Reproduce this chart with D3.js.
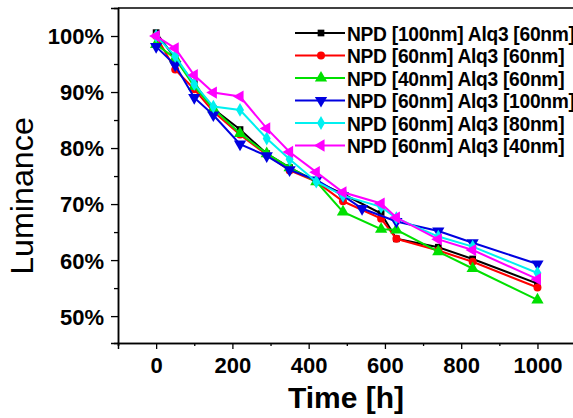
<!DOCTYPE html>
<html>
<head>
<meta charset="utf-8">
<script src="https://cdn.jsdelivr.net/npm/d3@7"></script>
<style>
body{margin:0;background:#fff;}
svg{display:block;font-family:"Liberation Sans",Arial,sans-serif;}
</style>
</head>
<body>
<div class="canvas"></div>
<script>
// data
var hours = [0,50,100,150,220,290,350,420,490,590,630,740,830,1000];
var hoursBlue = [0,50,100,150,220,290,350,420,490,540,630,740,830,1000];

var seriesNames = ['NPD [100nm] Alq3 [60nm]','NPD [60nm] Alq3 [60nm]','NPD [40nm] Alq3 [60nm]',
	'NPD [60nm] Alq3 [100nm]','NPD [60nm] Alq3 [80nm]','NPD [60nm] Alq3 [40nm]'];

var black   = [100.6,96,91.5,87,83.3,79,76.5,74,71.8,68.3,63.8,62.3,60.2,55.8];
var red     = [100,94,90.5,86.5,82.4,78.8,76,74,70.5,67.4,63.8,61.7,59.7,55.1];
var green   = [98.5,96,91,87,82.6,79,76.5,74,68.6,65.5,65.4,61.5,58.5,52.9];
var blue    = [98.1,94.8,89,85.9,80.7,78.6,76.1,74.3,71.5,69.2,66.9,65.2,63.1,59.3];
var cyan    = [100,96.4,91.4,87.4,86.8,81.7,78,74,71.5,69.5,67.5,64.2,62.4,57.7];
var magenta = [100,97.8,93,89.9,89.2,83.5,79.3,75.7,72.1,70.1,67.6,63.7,61.8,56.6];

var yTicks = [50,60,70,80,90,100];
var xTicks = [0,200,400,600,800,1000];

var series = [
	{name:seriesNames[0], t:hours,     v:black,   color:'#000000', sym:d3.symbolSquare,   rot:0,   size:45},
	{name:seriesNames[1], t:hours,     v:red,     color:'#ff0000', sym:d3.symbolCircle,   rot:0,   size:50},
	{name:seriesNames[2], t:hours,     v:green,   color:'#00e000', sym:d3.symbolTriangle, rot:0,   size:65},
	{name:seriesNames[3], t:hoursBlue, v:blue,    color:'#0000e0', sym:d3.symbolTriangle, rot:180, size:65},
	{name:seriesNames[4], t:hours,     v:cyan,    color:'#00f0f0', sym:d3.symbolDiamond,  rot:0,   size:55},
	{name:seriesNames[5], t:hours,     v:magenta, color:'#ff00ff', sym:d3.symbolTriangle, rot:-90, size:65}
];

var W = 573, H = 418;
var x = d3.scaleLinear().domain([-100,1100]).range([118,575.6]);
var y = d3.scaleLinear().domain([45.2,105]).range([343,8]);

var svg = d3.select('.canvas')
	.append('svg')
	.attr('width',W)
	.attr('height',H);

var plot = svg.append('g').attr('class','plot');

// lines + markers
var line = d3.line()
	.x(function(d){return x(d[0])})
	.y(function(d){return y(d[1])});

series.forEach(function(s){
	var pts = s.t.map(function(t,i){return [t,s.v[i]]});
	plot.append('path')
		.attr('d',line(pts))
		.attr('fill','none')
		.attr('stroke',s.color)
		.attr('stroke-width',2);
	plot.selectAll(null)
		.data(pts)
		.enter()
		.append('path')
		.attr('d',d3.symbol().type(s.sym).size(s.size))
		.attr('transform',function(d){return 'translate('+x(d[0])+','+y(d[1])+') rotate('+s.rot+')'})
		.attr('fill',s.color);
});

// axes
var xAxis = d3.axisBottom(x).tickValues(xTicks).tickSize(6).tickFormat(d3.format('d'));
var xMinor = d3.axisBottom(x).tickValues(d3.range(-100,1101,100).filter(function(d){return xTicks.indexOf(d)<0})).tickSize(3).tickFormat('');
var yAxis = d3.axisLeft(y).tickValues(yTicks).tickSize(7).tickFormat(function(d){return d+'%'});
var yMinor = d3.axisLeft(y).tickValues([55,65,75,85,95]).tickSize(4).tickFormat('');

var gx = svg.append('g').attr('transform','translate(0,343)').call(xAxis);
svg.append('g').attr('transform','translate(0,343)').call(xMinor);
var gy = svg.append('g').attr('transform','translate(118,0)').call(yAxis);
svg.append('g').attr('transform','translate(118,0)').call(yMinor);

svg.selectAll('.domain').attr('stroke','#000').attr('stroke-width',1.5);
svg.selectAll('.tick line').attr('stroke','#000').attr('stroke-width',1.3);

gx.selectAll('text')
	.attr('dy',null).attr('y',30)
	.style('font-size','22px').style('font-weight','bold').attr('fill','#000');
gy.selectAll('text')
	.attr('x',-14).attr('dy','0.36em')
	.style('font-size','22px').style('font-weight','bold').attr('fill','#000');

// top frame
svg.append('line')
	.attr('x1',118).attr('x2',W).attr('y1',8).attr('y2',8)
	.attr('stroke','#000').attr('stroke-width',1.5);

// titles
svg.append('text')
	.attr('x',346).attr('y',408)
	.attr('text-anchor','middle')
	.style('font-size','30px').style('font-weight','bold')
	.text('Time [h]');

svg.append('text')
	.attr('transform','translate(33,196) rotate(-90) scale(1.04,1)')
	.attr('text-anchor','middle')
	.style('font-size','31px')
	.text('Luminance');

// legend
var leg = svg.selectAll('.leg')
	.data(series)
	.enter()
	.append('g').attr('class','leg')
	.attr('transform',function(d,i){return 'translate(295,'+(33+i*22.5)+')'});

leg.append('line')
	.attr('x1',0).attr('x2',50).attr('y1',0).attr('y2',0)
	.attr('stroke',function(d){return d.color})
	.attr('stroke-width',2);
leg.append('path')
	.attr('d',function(d){return d3.symbol().type(d.sym).size(d.size)()})
	.attr('transform',function(d){return 'translate(26,0) rotate('+d.rot+')'})
	.attr('fill',function(d){return d.color});
leg.append('text')
	.attr('transform','translate(52,0) scale(0.915,1)')
	.attr('dy','0.36em')
	.style('font-size','21px').style('font-weight','bold')
	.style('letter-spacing','-0.3px')
	.text(function(d){return d.name});
</script>
</body>
</html>
